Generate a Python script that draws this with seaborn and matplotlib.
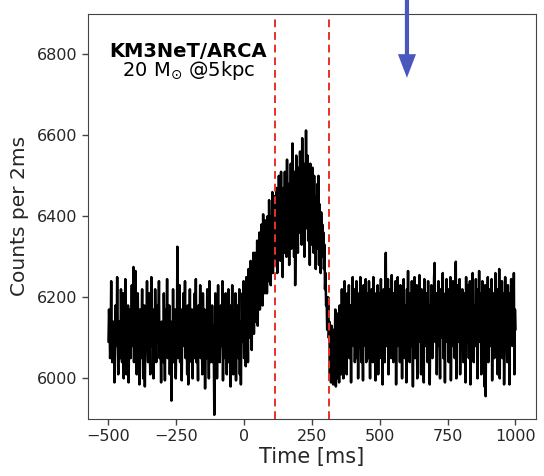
import numpy as np
import pandas as pd
import matplotlib
matplotlib.use("Agg")
import matplotlib.pyplot as plt
import seaborn as sns

# Counts per 2 ms bin (t = -500 ... 1000 ms)
counts_pre = [  # t = -500 ... -2
    6090, 6170, 6130, 6050, 6100, 6240, 6080, 6040, 6120, 6140,
    6110, 5990, 6090, 6180, 6130, 6080, 6250, 6100, 6010, 6120,
    6140, 6090, 6050, 6220, 6110, 6040, 6130, 6210, 6000, 6100,
    6120, 6245, 6080, 6010, 6140, 6100, 6180, 5990, 6090, 6130,
    6170, 6050, 6110, 6230, 6080, 6120, 6275, 6040, 6100, 6140,
    6265, 6090, 6010, 6130, 6210, 6080, 6110, 5985, 6170, 6100,
    6050, 6130, 6220, 6090, 6000, 6120, 6180, 5980, 6100, 6140,
    6110, 6240, 6080, 6040, 6130, 6210, 6090, 6010, 6120, 6250,
    6080, 6110, 6170, 6000, 6100, 6050, 6220, 6120, 6040, 6140,
    6090, 6180, 6110, 6240, 6050, 6130, 6100, 5990, 6140, 6080,
    6120, 6040, 6210, 6100, 5995, 6170, 6110, 6080, 6245, 6050,
    6130, 6090, 6180, 6010, 6110, 6140, 5945, 6100, 6050, 6220,
    6040, 6120, 6090, 6170, 6000, 6110, 6080, 6325, 6050, 6130,
    6100, 6230, 6040, 6120, 6170, 5995, 6140, 6090, 6210, 6080,
    6110, 6240, 6050, 6100, 6140, 6010, 6180, 5985, 6130, 6090,
    6220, 6080, 6110, 6040, 6170, 6000, 6130, 6100, 6050, 6210,
    6090, 6245, 6040, 6120, 6100, 5995, 6180, 6080, 6110, 6230,
    6050, 6140, 6100, 6010, 6210, 6120, 6080, 6170, 5975, 6100,
    6130, 6050, 6220, 6090, 6120, 6000, 6240, 6100, 6040, 6140,
    6100, 6180, 6040, 6130, 6080, 5910, 6110, 6210, 6050, 6140,
    6000, 6120, 6230, 6090, 6130, 6040, 6100, 6180, 6080, 6110,
    6240, 5995, 6130, 6100, 6170, 6050, 6210, 6110, 6010, 6140,
    6090, 6220, 6040, 6120, 6180, 5980, 6130, 6080, 6230, 6100,
    6010, 6170, 6120, 6050, 6210, 5995, 6130, 6100, 6180, 6050,
    6110, 6220, 6010, 6140, 5985, 6120, 6090, 6210, 6140, 6240,
]
counts_rise = [  # t = 0 ... 108
    6050, 6220, 6140, 6030, 6250, 6120, 6200, 6040, 6270, 6150,
    6240, 6100, 6290, 6160, 6070, 6280, 6180, 6310, 6110, 6250,
    6310, 6140, 6260, 6190, 6340, 6130, 6280, 6220, 6360, 6170,
    6320, 6200, 6380, 6250, 6180, 6405, 6270, 6350, 6210, 6390,
    6270, 6380, 6210, 6400, 6300, 6240, 6440, 6290, 6360, 6230,
    6400, 6310, 6460, 6260, 6380,
]
counts_peak = [  # t = 110 ... 308
    6320, 6450, 6280, 6410, 6340, 6470, 6260, 6400, 6330, 6500,
    6380, 6460, 6290, 6510, 6350, 6420, 6250, 6470, 6400, 6310,
    6510, 6360, 6430, 6300, 6540, 6400, 6330, 6480, 6280, 6450,
    6390, 6530, 6320, 6420, 6580, 6360, 6460, 6300, 6510, 6230,
    6350, 6550, 6400, 6460, 6310, 6520, 6420, 6360, 6560, 6400,
    6470, 6330, 6593, 6430, 6380, 6530, 6300, 6500, 6410, 6612,
    6450, 6370, 6550, 6340, 6510, 6420, 6280, 6530, 6380, 6460,
    6330, 6520, 6400, 6310, 6500, 6370, 6450, 6270, 6430, 6340,
    6480, 6320, 6500, 6280, 6430, 6340, 6260, 6410, 6310, 6380,
    6300, 6360, 6270, 6330, 6220, 6260, 6180, 6200, 6120, 6150,
]
counts_post = [  # t = 310 ... 1000
    6200, 6100, 6140, 6010, 6110, 5990, 6130, 6030, 6090, 5985,
    6120, 6010, 6080, 6170, 5980, 6100, 6000, 6160, 6050, 6110,
    5990, 6180, 6080, 6130, 6010, 6220, 6100, 6140, 6000, 6120,
    6240, 6080, 6170, 6110, 6010, 6210, 6130, 6090, 6230, 6050,
    6120, 6180, 5990, 6170, 6100, 6250, 6080, 6130, 6220, 6040,
    6140, 6100, 6240, 6050, 6180, 6000, 6130, 6210, 6090, 6250,
    6110, 6040, 6180, 6130, 5995, 6230, 6100, 6170, 6080, 6245,
    6040, 6140, 6210, 6110, 6050, 6240, 6120, 6000, 6180, 6090,
    6220, 6140, 6040, 6250, 6110, 6080, 6210, 5995, 6170, 6130,
    6100, 6230, 6010, 6140, 6210, 6050, 6120, 6245, 6090, 6180,
    5985, 6130, 6220, 6100, 6040, 6180, 6310, 6080, 6170, 6110,
    6245, 6010, 6140, 6100, 6220, 6130, 6050, 6255, 6110, 6180,
    6040, 6210, 6120, 6090, 6240, 5985, 6170, 6100, 6250, 6080,
    6140, 6210, 6040, 6230, 6110, 6170, 6000, 6210, 6100, 6245,
    6120, 6050, 6180, 6140, 5990, 6220, 6100, 6265, 6090, 6170,
    6040, 6210, 6130, 6080, 6240, 6110, 5980, 6180, 6140, 6250,
    6050, 6170, 6100, 6230, 6000, 6210, 6120, 6090, 6255, 6110,
    6140, 6010, 6220, 6100, 6180, 6130, 5990, 6245, 6100, 6170,
    6080, 6210, 6140, 6040, 6240, 6110, 6180, 5985, 6140, 6100,
    6230, 6130, 6050, 6180, 6100, 6250, 6285, 6090, 6140, 6210,
    6010, 6170, 6110, 6240, 6080, 6140, 6000, 6220, 6120, 6180,
    6100, 6260, 6050, 6140, 6180, 5990, 6210, 6100, 6245, 6090,
    6130, 6220, 6040, 6170, 6110, 6250, 5995, 6140, 6210, 6080,
    6240, 6100, 6140, 6050, 6210, 6288, 6000, 6180, 6120, 6230,
    6090, 6140, 6245, 6010, 6110, 6210, 6080, 6220, 6130, 6040,
    6210, 6100, 6170, 5990, 6250, 6120, 6090, 6230, 6140, 6050,
    6180, 6240, 5985, 6130, 6210, 6100, 6260, 6110, 6040, 6180,
    6140, 6080, 6245, 6100, 6170, 6000, 6220, 6120, 6265, 6090,
    6170, 6210, 6010, 6110, 6240, 6050, 6180, 6130, 5980, 6230,
    5956, 6140, 6210, 6100, 6250, 6040, 6170, 6110, 6220, 6080,
    6130, 6245, 5995, 6180, 6100, 6210, 6050, 6140, 6260, 6090,
    6120, 6220, 6010, 6170, 6110, 6270, 6000, 6210, 6140, 6100,
    6240, 6050, 6170, 6210, 5985, 6130, 6250, 6090, 6180, 6100,
    6040, 6230, 6120, 6170, 5985, 6210, 6100, 6245, 6140, 6080,
    6220, 6110, 6260, 6010, 6170, 6120,
]
window_ms = [113, 313]
x_ticks = [-500, -250, 0, 250, 500, 750, 1000]
y_ticks = [6000, 6200, 6400, 6600, 6800]
title_line1 = "KM3NeT/ARCA"
title_line2 = r"20 M$_{\odot}$ @5kpc"

counts = counts_pre + counts_rise + counts_peak + counts_post
times = np.arange(len(counts)) * 2 - 500
df = pd.DataFrame({"Time [ms]": times, "Counts per 2ms": counts})

sns.set_style("ticks")
plt.rcParams["font.family"] = ["DejaVu Sans"]
plt.rcParams["axes.edgecolor"] = "#444444"

fig = plt.figure(figsize=(5.44, 4.76), dpi=100)
ax = fig.add_axes([0.162, 0.12, 0.823, 0.851])

sns.lineplot(data=df, x="Time [ms]", y="Counts per 2ms", color="black",
             linewidth=1.8, estimator=None, ax=ax)
for w in window_ms:
    ax.axvline(w, color="#e8312a", linestyle=(0, (4, 2.5)), linewidth=1.4)

ax.set_xlim(-575, 1075)
ax.set_ylim(5900, 6900)
ax.set_xticks(x_ticks)
ax.set_yticks(y_ticks)
ax.tick_params(labelsize=11.5, length=4, width=1, color="#444444")
ax.set_xlabel("Time [ms]", fontsize=15, labelpad=2)
ax.set_ylabel("Counts per 2ms", fontsize=14.5, labelpad=6)

ax.text(-205, 6808, title_line1, ha="center", va="center",
        fontsize=14, fontweight="bold", color="black")
ax.text(-205, 6760, title_line2, ha="center", va="center", fontsize=14,
        color="black")

ax.annotate("", xy=(600, 6742), xytext=(600, 6940), xycoords="data",
            textcoords="data", annotation_clip=False,
            arrowprops=dict(width=3, headwidth=13, headlength=17,
                            shrink=0, color="#4a58bd", linewidth=0))

fig.savefig("out.png", dpi=100)
